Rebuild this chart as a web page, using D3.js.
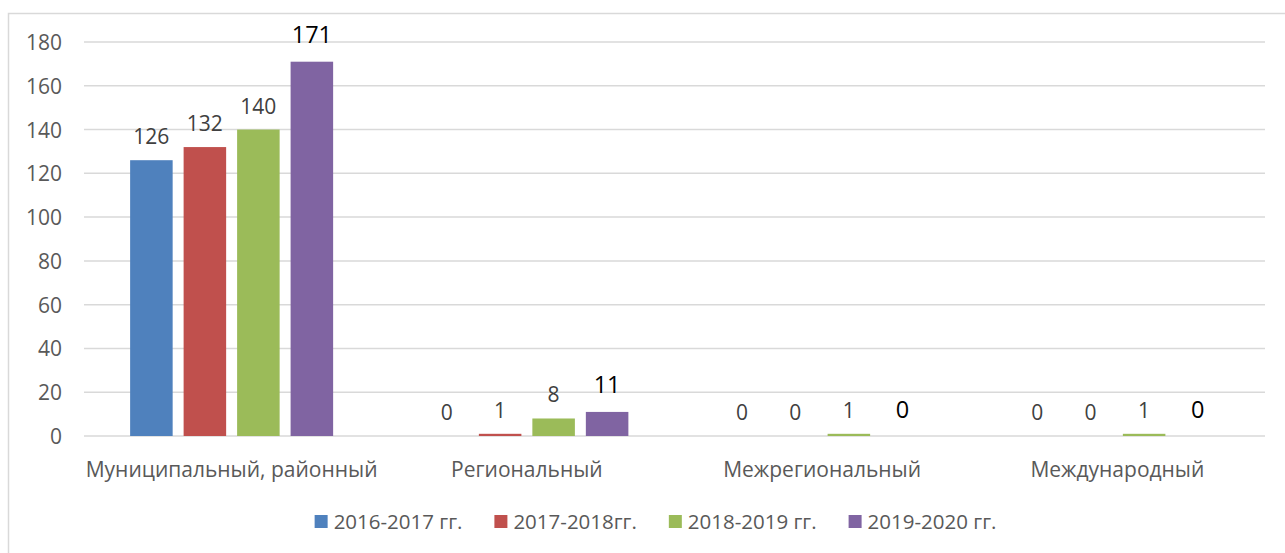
<!DOCTYPE html>
<html lang="ru">
<head>
  <meta charset="UTF-8">
  <title>Уровни</title>
  <script src="https://d3js.org/d3.v7.min.js"></script>
  <style>
    body { margin: 0; background: #fff; font-family: "Open Sans", "Noto Sans", sans-serif; }
    .grid line { stroke: #d9d9d9; stroke-width: 1.5; }
    .tick-label { font-size: 21px; fill: #595959; text-anchor: end; }
    .cat-label { font-size: 21px; fill: #595959; text-anchor: middle; }
    .val { font-size: 21px; fill: #404040; text-anchor: middle; }
    .val.dark { font-size: 23.5px; fill: #000; }
    .legend text { font-size: 20.5px; fill: #595959; }
  </style>
</head>
<body>
  <svg id="chart" width="1285" height="553"></svg>

  <script>
    const categories = ["Муниципальный, районный", "Региональный", "Межрегиональный", "Международный"];
    const seriesNames = ["2016-2017 гг.", "2017-2018гг.", "2018-2019 гг.", "2019-2020 гг."];
    const s2016 = [126, 0, 0, 0];
    const s2017 = [132, 1, 0, 0];
    const s2018 = [140, 8, 1, 1];
    const s2019 = [171, 11, 0, 0];
    const yTicks = [0, 20, 40, 60, 80, 100, 120, 140, 160, 180];
    const colors = ["#4f81bd", "#c0504d", "#9bbb59", "#8064a2"];

    const series = [s2016, s2017, s2018, s2019];

    const svg = d3.select("#chart");
    const plot = {left: 84, right: 1265, top: 42, bottom: 436};

    // рамка области диаграммы
    svg.append("rect")
      .attr("x", 8.5).attr("y", 13.5)
      .attr("width", 1300).attr("height", 600)
      .attr("fill", "none").attr("stroke", "#d9d9d9").attr("stroke-width", 1.5);

    const y = d3.scaleLinear().domain([0, 180]).range([plot.bottom, plot.top]);
    const x0 = d3.scaleBand().domain(categories).range([plot.left, plot.right]).paddingInner(0).paddingOuter(0);
    // ширина группы из 4 столбцов ~203 px из 295
    const groupW = 203;
    const x1 = d3.scaleBand().domain(d3.range(series.length)).range([0, groupW]).paddingInner(0.205);

    // сетка
    svg.append("g").attr("class", "grid")
      .selectAll("line").data(yTicks).join("line")
      .attr("x1", plot.left).attr("x2", plot.right)
      .attr("y1", d => y(d)).attr("y2", d => y(d));

    svg.append("g").selectAll("text").data(yTicks).join("text")
      .attr("class", "tick-label")
      .attr("x", 62).attr("y", d => y(d) + 8)
      .text(d => d);

    const groups = svg.append("g").selectAll("g").data(categories).join("g")
      .attr("transform", c => `translate(${x0(c) + (x0.bandwidth() - groupW) / 2},0)`);

    groups.each(function(c, ci) {
      const g = d3.select(this);
      series.forEach((s, si) => {
        const v = s[ci];
        if (v > 0) {
          g.append("rect")
            .attr("x", x1(si)).attr("width", x1.bandwidth())
            .attr("y", y(v)).attr("height", y(0) - y(v))
            .attr("fill", colors[si]);
        }
        const dark = si === 3;
        g.append("text")
          .attr("class", dark ? "val dark" : "val")
          .attr("x", x1(si) + x1.bandwidth() / 2)
          .attr("y", y(v) - (dark ? 18.5 : 16))
          .text(v);
      });
    });

    svg.append("g").selectAll("text").data(categories).join("text")
      .attr("class", "cat-label")
      .attr("x", c => x0(c) + x0.bandwidth() / 2)
      .attr("y", 476.5)
      .text(c => c);

    // легенда
    const legend = svg.append("g").attr("class", "legend");
    const items = legend.selectAll("g").data(seriesNames).join("g");
    items.append("rect").attr("width", 13).attr("height", 13).attr("y", 515)
      .attr("fill", (d, i) => colors[i]);
    items.append("text").attr("x", 19).attr("y", 528.5).text(d => d);
    let cx = 0;
    const gap = 32;
    items.each(function() {
      const w = 19 + d3.select(this).select("text").node().getComputedTextLength();
      d3.select(this).attr("data-off", cx).attr("data-w", w);
      cx += w + gap;
    });
    const total = cx - gap;
    const startX = 655.5 - total / 2;
    items.attr("transform", function() { return `translate(${startX + +this.getAttribute("data-off")},0)`; });
  </script>
</body>
</html>
